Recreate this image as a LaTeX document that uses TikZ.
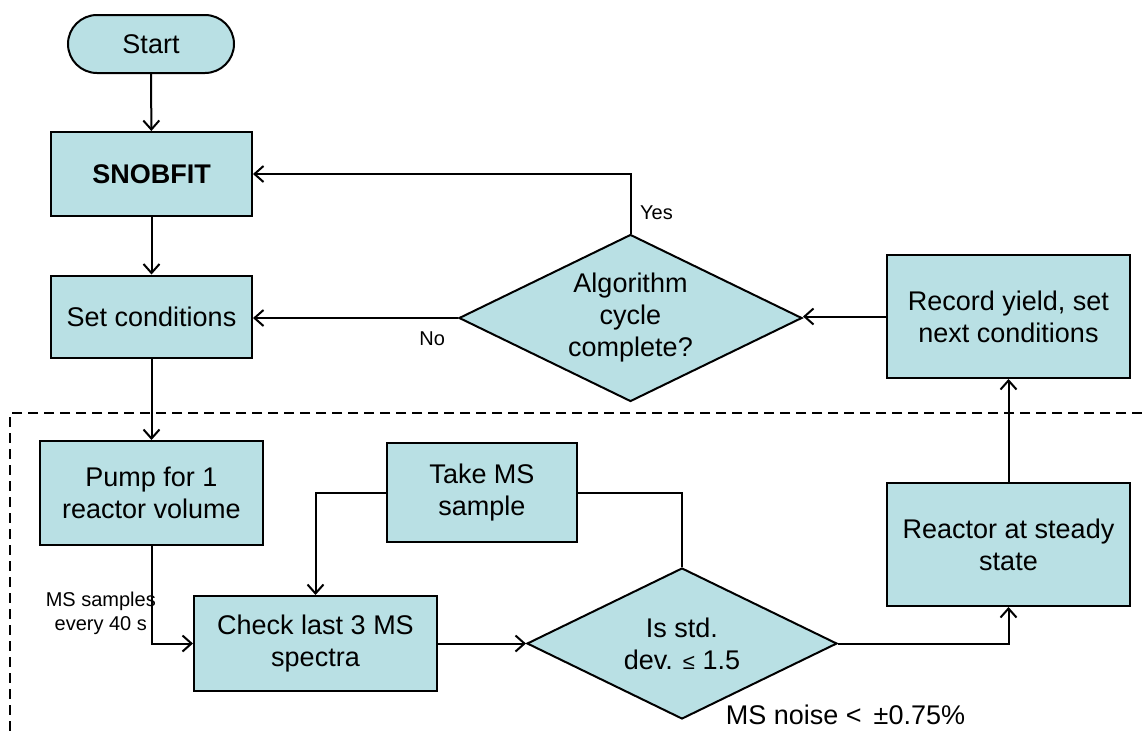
\documentclass[tikz,border=0pt]{standalone}
\usepackage{fontspec}
\setmainfont{Liberation Sans}
\usetikzlibrary{shapes.geometric,shapes.misc,arrows.meta}
\definecolor{boxfill}{RGB}{185,224,228}
\tikzset{
  box/.style={
      draw,
      fill=boxfill,
      line width=1pt,
      align=center,
      inner sep=0pt,
      font=\fontsize{13.5}{16}\selectfont
  },
  terminal/.style={box, rounded rectangle},
  process/.style={box, rectangle},
  decision/.style={box, diamond, aspect=2},
  flow/.style={line width=1pt, -{Straight Barb[length=4.5pt,width=8pt]}},
  small/.style={align=center, font=\fontsize{10}{11.7}\selectfont}
}

\begin{document}
\begin{tikzpicture}[x=0.5pt,y=-0.5pt]
	\useasboundingbox (0,0) rectangle (1142,734);
	\draw[line width=0.8pt, dash pattern=on 5pt off 3pt] (1142,413) -- (10,413) -- (10,734);
	\node[terminal, minimum width=83pt, minimum height=29pt] (start) at (151,44) {Start};
	\node[process, minimum width=100.5pt, minimum height=42pt, font=\fontsize{13.5}{16}\selectfont\bfseries] (snobfit) at (151.5,174) {SNOBFIT};
	\node[process, minimum width=100.5pt, minimum height=41pt] (setcond) at (151.5,316.5) {Set conditions};
	\node[decision, minimum width=171.5pt, minimum height=83.5pt] (cycle) at (630.5,318) {Algorithm\\cycle\\complete?};
	\node[process, minimum width=121.5pt, minimum height=61.5pt] (record) at (1008.5,316.5) {Record yield, set\\next conditions};
	\node[process, minimum width=111.5pt, minimum height=52pt] (pump) at (151.5,493) {Pump for 1\\reactor volume};
	\node[process, minimum width=95pt, minimum height=49.5pt] (takems) at (482,492.5) {Take MS\\sample};
	\node[process, minimum width=121.5pt, minimum height=47.5pt] (check) at (315.5,643.5) {Check last 3 MS\\spectra};
	\node[decision, minimum width=155pt, minimum height=75.5pt] (stddev) at (682,643.5) {Is std.\\dev. {\fontsize{11}{12}\selectfont ≤} 1.5};
	\node[process, minimum width=121.5pt, minimum height=61.5pt] (reactor) at (1008.5,544.5) {Reactor at steady\\state};
	\node[font=\fontsize{13.5}{15}\selectfont] (noise) at (845.5,715) {MS noise < \,±0.75\%};

	\draw[flow] (start) -- (snobfit);
	\draw[flow] (snobfit) -- (setcond);
	\draw[flow] (setcond) -- (pump);
	\draw[flow] (pump.south) |- node[small, pos=0.345, left=-6pt] {MS samples\\every 40 s} (check.west);
	\draw[flow] (takems.west) -| (check.north);
	\draw[line width=1pt] (takems.east) -| (stddev.north);
	\draw[flow] (check.east) -- (stddev.west);
	\draw[flow] (stddev.east) -| (reactor.south);
	\draw[flow] (reactor) -- (record);
	\draw[flow] (record.west) -- (record.west -| cycle.east);
	\draw[flow] (cycle.west) -- node[small, pos=0.126, below=3pt] {No} (cycle.west -| setcond.east);
	\draw[flow] (cycle.north) |- node[small, pos=0.178, right=1pt] {Yes} (snobfit.east);
\end{tikzpicture}
\end{document}
